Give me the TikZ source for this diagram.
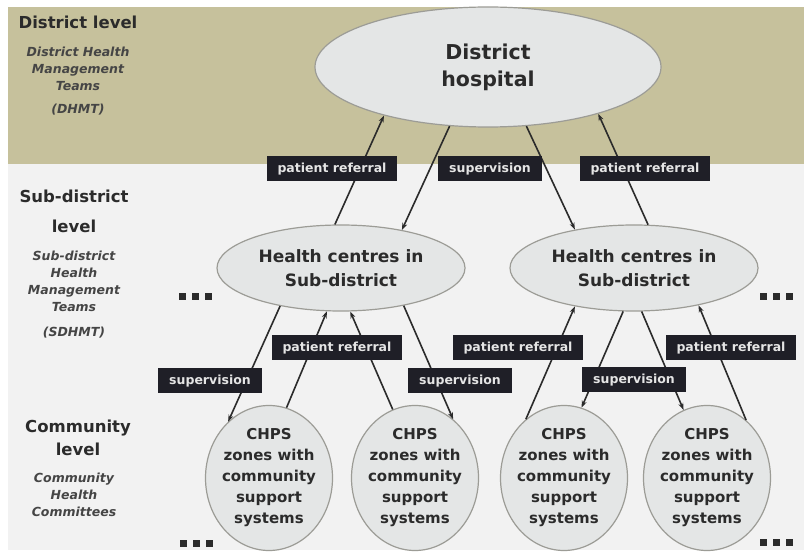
\documentclass[tikz,border=0pt]{standalone}
\usepackage{fontspec}
\setmainfont{DejaVu Sans}
\usetikzlibrary{shapes.geometric,arrows.meta}
\definecolor{beige}{HTML}{C6C19C}
\definecolor{paper}{HTML}{F2F2F2}
\definecolor{lblfill}{HTML}{1F1F27}
\definecolor{ink}{HTML}{2B2B2B}
\definecolor{subink}{HTML}{454545}
\definecolor{ovalfill}{HTML}{E4E6E6}
\definecolor{ovalline}{HTML}{9C9C96}
\begin{document}
\begin{tikzpicture}[x=1pt,y=-1pt,
  ovalbox/.style={ellipse, draw=ovalline, line width=1.2pt, fill=ovalfill, inner sep=0pt, align=center, text=ink},
  hospbox/.style={ovalbox, minimum width=346pt, minimum height=120pt, font=\fontsize{20.5}{27}\selectfont\bfseries},
  hcbox/.style={ovalbox, minimum width=248pt, minimum height=86pt, font=\fontsize{17}{24}\selectfont\bfseries},
  chpsbox/.style={ovalbox, inner sep=-6pt, minimum width=127pt, minimum height=145pt, font=\fontsize{15}{21}\selectfont\bfseries},
  lbl/.style={fill=lblfill, text=white!90!black, font=\fontsize{12.5}{15}\selectfont\bfseries, inner xsep=11pt, minimum height=25pt, inner ysep=0pt},
  conn/.style={draw=ink, line width=1.6pt, -{Stealth[length=7pt,width=5pt]}},
  headtxt/.style={align=center, text=ink, font=\fontsize{16.5}{23}\selectfont\bfseries, inner sep=0pt},
  subtxt/.style={align=center, text=subink, font=\fontsize{12.5}{17}\selectfont\bfseries\itshape, inner sep=0pt},
  dotsrow/.style={inner sep=0pt, text=ink}
]
\useasboundingbox (0,0) rectangle (804,553);
% backgrounds
\fill[white] (0,0) rectangle (804,553);
\fill[paper] (8,164) rectangle (804,550);
\fill[beige] (8,7) rectangle (804,164);

% main nodes
\node[hospbox] (dh) at (488,67) {District\\hospital};
\node[hcbox] (hcL) at (341,268) {Health centres in\\Sub-district};
\node[hcbox] (hcR) at (634,268) {Health centres in\\Sub-district};
\node[chpsbox] (c1) at (269,478) {CHPS\\zones with\\community\\support\\systems};
\node[chpsbox] (c2) at (415,478) {CHPS\\zones with\\community\\support\\systems};
\node[chpsbox] (c3) at (564,478) {CHPS\\zones with\\community\\support\\systems};
\node[chpsbox] (c4) at (707,478) {CHPS\\zones with\\community\\support\\systems};

% connectors
\draw[conn] (hcL.98) -- (dh.205);
\draw[conn] (dh.237) -- (hcL.32);
\draw[conn] (dh.303) -- (hcR.147);
\draw[conn] (hcR.72) -- (dh.337);
\draw[conn] (hcL.212) -- (c1.126);
\draw[conn] (c1.76) -- (hcL.252);
\draw[conn] (c2.108) -- (hcL.282);
\draw[conn] (hcL.329) -- (c2.57);
\draw[conn] (c3.123) -- (hcR.213);
\draw[conn] (hcR.256) -- (c3.76);
\draw[conn] (hcR.280) -- (c4.109);
\draw[conn] (c4.56) -- (hcR.330);

% labels
\node[lbl] (l1) at (332,169) {patient referral};
\node[lbl] (l2) at (490,169) {supervision};
\node[lbl] (l3) at (645,169) {patient referral};
\node[lbl] (l4) at (337,348) {patient referral};
\node[lbl] (l5) at (210,381) {supervision};
\node[lbl] (l6) at (460,381) {supervision};
\node[lbl] (l7) at (518,348) {patient referral};
\node[lbl] (l8) at (634,380) {supervision};
\node[lbl] (l9) at (731,348) {patient referral};

% dots
\node[dotsrow] (d1) at (195,297) {\rule{7pt}{7pt}\hspace{6pt}\rule{7pt}{7pt}\hspace{6pt}\rule{7pt}{7pt}};
\node[dotsrow] (d2) at (776,297) {\rule{7pt}{7pt}\hspace{6pt}\rule{7pt}{7pt}\hspace{6pt}\rule{7pt}{7pt}};
\node[dotsrow] (d3) at (196,543) {\rule{7pt}{7pt}\hspace{6pt}\rule{7pt}{7pt}\hspace{6pt}\rule{7pt}{7pt}};
\node[dotsrow] (d4) at (776,542) {\rule{7pt}{7pt}\hspace{6pt}\rule{7pt}{7pt}\hspace{6pt}\rule{7pt}{7pt}};

% left column
\node[headtxt] (t1) at (78,22) {District level};
\node[subtxt] (t2) at (78,69) {District Health\\Management\\Teams};
\node[subtxt] (t3) at (78,110) {(DHMT)};
\node[headtxt, font=\fontsize{16.5}{30}\selectfont\bfseries] (t4) at (74,211) {Sub-district\\level};
\node[subtxt] (t5) at (74,281) {Sub-district\\Health\\Management\\Teams};
\node[subtxt] (t6) at (74,333) {(SDHMT)};
\node[headtxt] (t7) at (78,438) {Community\\level};
\node[subtxt] (t8) at (74,495) {Community\\Health\\Committees};
\end{tikzpicture}
\end{document}
